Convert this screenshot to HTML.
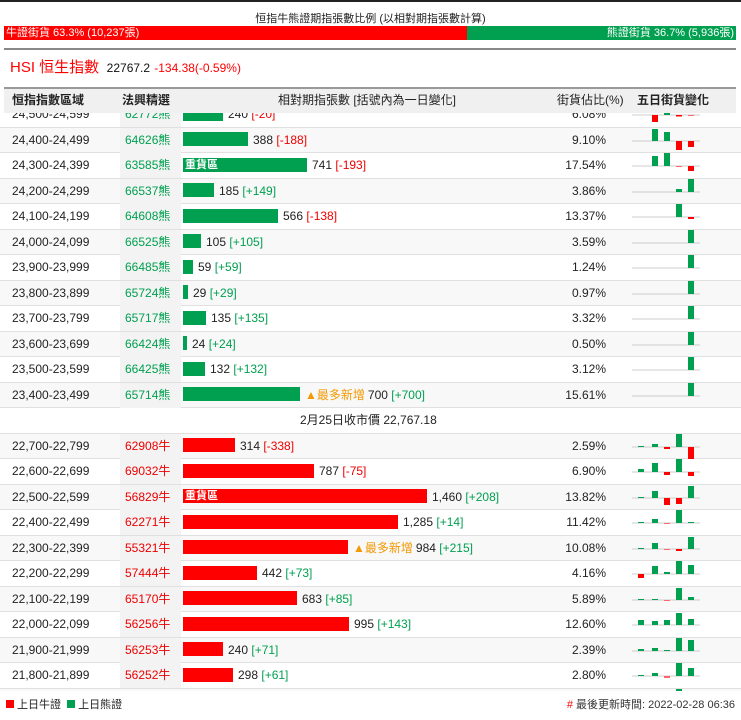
<!DOCTYPE html>
<html><head><meta charset="utf-8"><style>
*{margin:0;padding:0;box-sizing:border-box}
body{width:741px;height:720px;background:#fff;font-family:"Liberation Sans","Noto Sans CJK TC",sans-serif;font-size:12px;color:#222;position:relative;overflow:hidden}
.abs{position:absolute}
.tbl{position:absolute;left:0;top:113px;width:741px;height:578px;overflow:hidden}
.r{position:absolute;left:0;width:741px;height:25.5px;border-bottom:1px solid #e0e0e0;line-height:25px}
.r.a{background:#f8f8f8}
.c1{position:absolute;left:12px}
.c2{position:absolute;left:120px;width:61px;padding-left:5px;height:25px;background:#f3f3f3}
.g{color:#00a050}.rd{color:#e00}
.c3{position:absolute;left:183px;top:0;height:25px;line-height:25px;white-space:nowrap}
.c3 i{display:inline-block;vertical-align:middle;position:relative;top:-1px;height:14px;margin-right:5px;color:#fff;font-style:normal;font-weight:bold;font-size:11px;line-height:14px;padding-left:2px}
.gb{background:#00a050}.rb{background:#f00}
.tag{color:#f39800;margin-right:3px}
.p{position:absolute;right:135px}
.m{position:absolute;left:630px;top:0}
</style></head><body>
<div class="abs" style="left:0;top:0;width:741px;height:2px;background:#222"></div>
<div class="abs" style="left:0;top:10px;width:741px;text-align:center;font-size:11px">恒指牛熊證期指張數比例 (以相對期指張數計算)</div>
<div class="abs" style="left:4px;top:26px;width:463px;height:14px;background:#f00;color:#fff;font-size:11px;line-height:14px;padding-left:2px">牛證街貨 63.3% (10,237張)</div>
<div class="abs" style="left:467px;top:26px;width:269px;height:14px;background:#00a050;color:#fff;font-size:11px;line-height:14px;text-align:right;padding-right:2px">熊證街貨 36.7% (5,936張)</div>
<div class="abs" style="left:4px;top:48px;width:732px;height:2px;background:#888"></div>
<div class="abs" style="left:10px;top:59px;font-size:15px;color:#f00;line-height:18px">HSI 恒生指數 <span style="color:#111;font-size:12px">&nbsp;22767.2</span> <span style="font-size:12px">-134.38(-0.59%)</span></div>
<div class="abs" style="left:4px;top:87px;width:732px;height:26px;background:#f0f0f0;border-top:2px solid #999;line-height:23px;font-weight:bold">
<span class="abs" style="left:8px">恒指指數區域</span><span class="abs" style="left:118px">法興精選</span><span class="abs" style="left:274px;font-weight:normal">相對期指張數 [括號內為一日變化]</span><span class="abs" style="left:553px;font-weight:normal">街貨佔比(%)</span><span class="abs" style="left:633px">五日街貨變化</span></div>
<div class="tbl">
<div style="position:absolute;left:0;top:-113px;width:741px">
<div class="r" style="top:102px"><span class="c1">24,500-24,599</span><span class="c2 g">62772熊</span><div class="c3"><i class="gb" style="width:40px"></i>240 <span class="rd">[-20]</span></div><span class="p">6.08%</span><svg class="m" width="72" height="25"><line x1="2" y1="13" x2="70" y2="13" stroke="#ccc"/><rect x="22" y="13" width="6" height="7" fill="#f00"/><rect x="34" y="10" width="6" height="3" fill="#00a050"/><rect x="46" y="13" width="6" height="1.5" fill="#f00"/><rect x="58" y="13" width="6" height="1" fill="#f66"/></svg></div>
<div class="r a" style="top:127.5px"><span class="c1">24,400-24,499</span><span class="c2 g">64626熊</span><div class="c3"><i class="gb" style="width:65px"></i>388 <span class="rd">[-188]</span></div><span class="p">9.10%</span><svg class="m" width="72" height="25"><line x1="2" y1="13" x2="70" y2="13" stroke="#ccc"/><rect x="22" y="1" width="6" height="12" fill="#00a050"/><rect x="34" y="4" width="6" height="9" fill="#00a050"/><rect x="46" y="13" width="6" height="9" fill="#f00"/><rect x="58" y="13" width="6" height="6" fill="#f00"/></svg></div>
<div class="r" style="top:153px"><span class="c1">24,300-24,399</span><span class="c2 g">63585熊</span><div class="c3"><i class="gb" style="width:124px">重貨區</i>741 <span class="rd">[-193]</span></div><span class="p">17.54%</span><svg class="m" width="72" height="25"><line x1="2" y1="13" x2="70" y2="13" stroke="#ccc"/><rect x="22" y="3" width="6" height="10" fill="#00a050"/><rect x="34" y="0" width="6" height="13" fill="#00a050"/><rect x="46" y="13" width="6" height="1" fill="#f66"/><rect x="58" y="13" width="6" height="5" fill="#f00"/></svg></div>
<div class="r a" style="top:178.5px"><span class="c1">24,200-24,299</span><span class="c2 g">66537熊</span><div class="c3"><i class="gb" style="width:31px"></i>185 <span class="g">[+149]</span></div><span class="p">3.86%</span><svg class="m" width="72" height="25"><line x1="2" y1="13" x2="70" y2="13" stroke="#ccc"/><rect x="46" y="10" width="6" height="3" fill="#00a050"/><rect x="58" y="0" width="6" height="13" fill="#00a050"/></svg></div>
<div class="r" style="top:204px"><span class="c1">24,100-24,199</span><span class="c2 g">64608熊</span><div class="c3"><i class="gb" style="width:95px"></i>566 <span class="rd">[-138]</span></div><span class="p">13.37%</span><svg class="m" width="72" height="25"><line x1="2" y1="13" x2="70" y2="13" stroke="#ccc"/><rect x="46" y="0" width="6" height="13" fill="#00a050"/><rect x="58" y="13" width="6" height="2" fill="#f00"/></svg></div>
<div class="r a" style="top:229.5px"><span class="c1">24,000-24,099</span><span class="c2 g">66525熊</span><div class="c3"><i class="gb" style="width:18px"></i>105 <span class="g">[+105]</span></div><span class="p">3.59%</span><svg class="m" width="72" height="25"><line x1="2" y1="13" x2="70" y2="13" stroke="#ccc"/><rect x="58" y="0" width="6" height="13" fill="#00a050"/></svg></div>
<div class="r" style="top:255px"><span class="c1">23,900-23,999</span><span class="c2 g">66485熊</span><div class="c3"><i class="gb" style="width:10px"></i>59 <span class="g">[+59]</span></div><span class="p">1.24%</span><svg class="m" width="72" height="25"><line x1="2" y1="13" x2="70" y2="13" stroke="#ccc"/><rect x="58" y="0" width="6" height="13" fill="#00a050"/></svg></div>
<div class="r a" style="top:280.5px"><span class="c1">23,800-23,899</span><span class="c2 g">65724熊</span><div class="c3"><i class="gb" style="width:5px"></i>29 <span class="g">[+29]</span></div><span class="p">0.97%</span><svg class="m" width="72" height="25"><line x1="2" y1="13" x2="70" y2="13" stroke="#ccc"/><rect x="58" y="0" width="6" height="13" fill="#00a050"/></svg></div>
<div class="r" style="top:306px"><span class="c1">23,700-23,799</span><span class="c2 g">65717熊</span><div class="c3"><i class="gb" style="width:23px"></i>135 <span class="g">[+135]</span></div><span class="p">3.32%</span><svg class="m" width="72" height="25"><line x1="2" y1="13" x2="70" y2="13" stroke="#ccc"/><rect x="58" y="0" width="6" height="13" fill="#00a050"/></svg></div>
<div class="r a" style="top:331.5px"><span class="c1">23,600-23,699</span><span class="c2 g">66424熊</span><div class="c3"><i class="gb" style="width:4px"></i>24 <span class="g">[+24]</span></div><span class="p">0.50%</span><svg class="m" width="72" height="25"><line x1="2" y1="13" x2="70" y2="13" stroke="#ccc"/><rect x="58" y="0" width="6" height="13" fill="#00a050"/></svg></div>
<div class="r" style="top:357px"><span class="c1">23,500-23,599</span><span class="c2 g">66425熊</span><div class="c3"><i class="gb" style="width:22px"></i>132 <span class="g">[+132]</span></div><span class="p">3.12%</span><svg class="m" width="72" height="25"><line x1="2" y1="13" x2="70" y2="13" stroke="#ccc"/><rect x="58" y="0" width="6" height="13" fill="#00a050"/></svg></div>
<div class="r a" style="top:382.5px"><span class="c1">23,400-23,499</span><span class="c2 g">65714熊</span><div class="c3"><i class="gb" style="width:117px"></i><span class="tag">▲最多新增</span>700 <span class="g">[+700]</span></div><span class="p">15.61%</span><svg class="m" width="72" height="25"><line x1="2" y1="13" x2="70" y2="13" stroke="#ccc"/><rect x="58" y="0" width="6" height="13" fill="#00a050"/></svg></div>
<div class="r" style="top:408px"><span style="position:absolute;left:300px">2月25日收市價 22,767.18</span></div>
<div class="r a" style="top:433.5px"><span class="c1">22,700-22,799</span><span class="c2 rd">62908牛</span><div class="c3"><i class="rb" style="width:52px"></i>314 <span class="rd">[-338]</span></div><span class="p">2.59%</span><svg class="m" width="72" height="25"><line x1="2" y1="13" x2="70" y2="13" stroke="#ccc"/><rect x="8" y="12" width="6" height="1" fill="#00a050"/><rect x="22" y="10" width="6" height="3" fill="#00a050"/><rect x="34" y="13" width="6" height="2" fill="#f00"/><rect x="46" y="0" width="6" height="13" fill="#00a050"/><rect x="58" y="13" width="6" height="12" fill="#f00"/></svg></div>
<div class="r" style="top:459px"><span class="c1">22,600-22,699</span><span class="c2 rd">69032牛</span><div class="c3"><i class="rb" style="width:131px"></i>787 <span class="rd">[-75]</span></div><span class="p">6.90%</span><svg class="m" width="72" height="25"><line x1="2" y1="13" x2="70" y2="13" stroke="#ccc"/><rect x="8" y="10" width="6" height="3" fill="#00a050"/><rect x="22" y="4" width="6" height="9" fill="#00a050"/><rect x="34" y="13" width="6" height="3" fill="#f00"/><rect x="46" y="0" width="6" height="13" fill="#00a050"/><rect x="58" y="13" width="6" height="4" fill="#f00"/></svg></div>
<div class="r a" style="top:484.5px"><span class="c1">22,500-22,599</span><span class="c2 rd">56829牛</span><div class="c3"><i class="rb" style="width:244px">重貨區</i>1,460 <span class="g">[+208]</span></div><span class="p">13.82%</span><svg class="m" width="72" height="25"><line x1="2" y1="13" x2="70" y2="13" stroke="#ccc"/><rect x="8" y="12" width="6" height="1" fill="#00a050"/><rect x="22" y="6" width="6" height="7" fill="#00a050"/><rect x="34" y="13" width="6" height="7" fill="#f00"/><rect x="46" y="13" width="6" height="6" fill="#f00"/><rect x="58" y="1" width="6" height="12" fill="#00a050"/></svg></div>
<div class="r" style="top:510px"><span class="c1">22,400-22,499</span><span class="c2 rd">62271牛</span><div class="c3"><i class="rb" style="width:215px"></i>1,285 <span class="g">[+14]</span></div><span class="p">11.42%</span><svg class="m" width="72" height="25"><line x1="2" y1="13" x2="70" y2="13" stroke="#ccc"/><rect x="8" y="12" width="6" height="1" fill="#00a050"/><rect x="22" y="9" width="6" height="4" fill="#00a050"/><rect x="34" y="13" width="6" height="1" fill="#f66"/><rect x="46" y="0" width="6" height="13" fill="#00a050"/><rect x="58" y="12" width="6" height="1" fill="#00a050"/></svg></div>
<div class="r a" style="top:535.5px"><span class="c1">22,300-22,399</span><span class="c2 rd">55321牛</span><div class="c3"><i class="rb" style="width:165px"></i><span class="tag">▲最多新增</span>984 <span class="g">[+215]</span></div><span class="p">10.08%</span><svg class="m" width="72" height="25"><line x1="2" y1="13" x2="70" y2="13" stroke="#ccc"/><rect x="8" y="12" width="6" height="1" fill="#00a050"/><rect x="22" y="7" width="6" height="6" fill="#00a050"/><rect x="34" y="13" width="6" height="1" fill="#f66"/><rect x="46" y="13" width="6" height="2" fill="#f00"/><rect x="58" y="1" width="6" height="12" fill="#00a050"/></svg></div>
<div class="r" style="top:561px"><span class="c1">22,200-22,299</span><span class="c2 rd">57444牛</span><div class="c3"><i class="rb" style="width:74px"></i>442 <span class="g">[+73]</span></div><span class="p">4.16%</span><svg class="m" width="72" height="25"><line x1="2" y1="13" x2="70" y2="13" stroke="#ccc"/><rect x="8" y="13" width="6" height="4" fill="#f00"/><rect x="22" y="5" width="6" height="8" fill="#00a050"/><rect x="34" y="11" width="6" height="2" fill="#00a050"/><rect x="46" y="0" width="6" height="13" fill="#00a050"/><rect x="58" y="4" width="6" height="9" fill="#00a050"/></svg></div>
<div class="r a" style="top:586.5px"><span class="c1">22,100-22,199</span><span class="c2 rd">65170牛</span><div class="c3"><i class="rb" style="width:114px"></i>683 <span class="g">[+85]</span></div><span class="p">5.89%</span><svg class="m" width="72" height="25"><line x1="2" y1="13" x2="70" y2="13" stroke="#ccc"/><rect x="8" y="12" width="6" height="1" fill="#00a050"/><rect x="22" y="12" width="6" height="1" fill="#00a050"/><rect x="34" y="13" width="6" height="1" fill="#f66"/><rect x="46" y="1" width="6" height="12" fill="#00a050"/><rect x="58" y="10" width="6" height="3" fill="#00a050"/></svg></div>
<div class="r" style="top:612px"><span class="c1">22,000-22,099</span><span class="c2 rd">56256牛</span><div class="c3"><i class="rb" style="width:166px"></i>995 <span class="g">[+143]</span></div><span class="p">12.60%</span><svg class="m" width="72" height="25"><line x1="2" y1="13" x2="70" y2="13" stroke="#ccc"/><rect x="8" y="8" width="6" height="5" fill="#00a050"/><rect x="22" y="9" width="6" height="4" fill="#00a050"/><rect x="34" y="8" width="6" height="5" fill="#00a050"/><rect x="46" y="1" width="6" height="12" fill="#00a050"/><rect x="58" y="7" width="6" height="6" fill="#00a050"/></svg></div>
<div class="r a" style="top:637.5px"><span class="c1">21,900-21,999</span><span class="c2 rd">56253牛</span><div class="c3"><i class="rb" style="width:40px"></i>240 <span class="g">[+71]</span></div><span class="p">2.39%</span><svg class="m" width="72" height="25"><line x1="2" y1="13" x2="70" y2="13" stroke="#ccc"/><rect x="8" y="11" width="6" height="2" fill="#00a050"/><rect x="22" y="10" width="6" height="3" fill="#00a050"/><rect x="34" y="12" width="6" height="1" fill="#00a050"/><rect x="46" y="0" width="6" height="13" fill="#00a050"/><rect x="58" y="2" width="6" height="11" fill="#00a050"/></svg></div>
<div class="r" style="top:663px"><span class="c1">21,800-21,899</span><span class="c2 rd">56252牛</span><div class="c3"><i class="rb" style="width:50px"></i>298 <span class="g">[+61]</span></div><span class="p">2.80%</span><svg class="m" width="72" height="25"><line x1="2" y1="13" x2="70" y2="13" stroke="#ccc"/><rect x="8" y="12" width="6" height="1" fill="#00a050"/><rect x="22" y="10" width="6" height="3" fill="#00a050"/><rect x="34" y="13" width="6" height="2" fill="#f66"/><rect x="46" y="0" width="6" height="13" fill="#00a050"/><rect x="58" y="5" width="6" height="8" fill="#00a050"/></svg></div>
<div class="r a" style="top:688.5px"><svg class="m" width="72" height="25"><rect x="46" y="0" width="6" height="3" fill="#00a050"/></svg></div>
</div></div>
<div class="abs" style="left:6px;top:699px;font-size:11px;line-height:12px"><span style="display:inline-block;width:8px;height:8px;background:#f00;margin-right:3px"></span>上日牛證 &nbsp;<span style="display:inline-block;width:8px;height:8px;background:#00a050;margin-right:3px"></span>上日熊證</div>
<div class="abs" style="right:6px;top:699px;font-size:11px;line-height:12px;color:#333"><span style="color:#f00">#</span> 最後更新時間: 2022-02-28 06:36</div>
</body></html>
